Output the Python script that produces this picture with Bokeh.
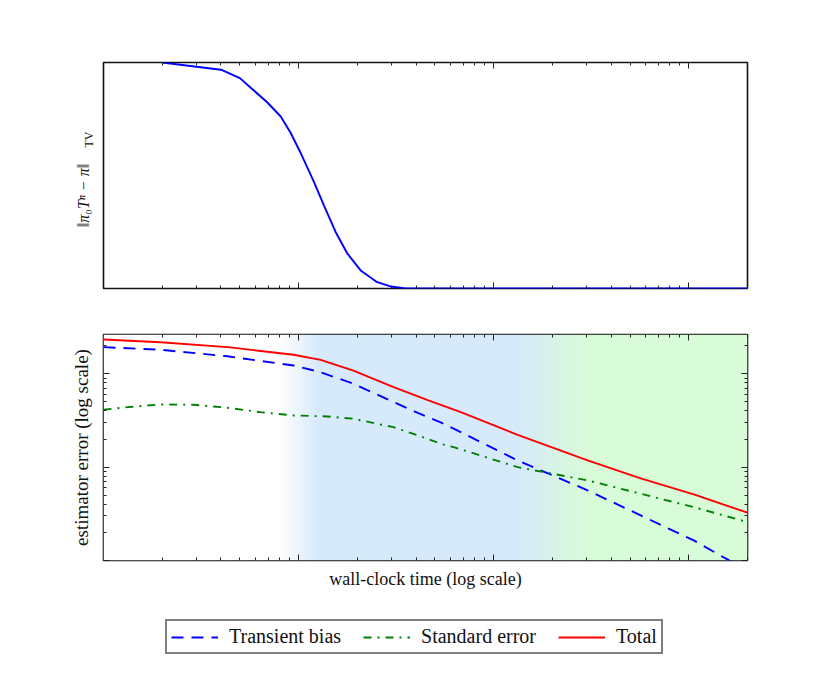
import numpy as np
from bokeh.plotting import figure
from bokeh.layouts import column
from bokeh.models import LogAxis, LinearAxis, FixedTicker, Legend, LegendItem, Range1d
from bokeh.embed import file_html
from bokeh.resources import INLINE

# ---------------- data ----------------
tv_time = [2.0, 4.0, 5.0, 6.9, 8.1, 9.1, 10.2, 12.0, 13.5, 15.5, 17.8, 20.8,
           25.3, 29.6, 34.7, 42.2, 100.0, 2000.0]
tv_dist = [1.0, 0.968, 0.931, 0.824, 0.761, 0.689, 0.603, 0.471, 0.367, 0.249,
           0.154, 0.080, 0.028, 0.009, 0.001, 0.0, 0.0, 0.0]

bias_time = [1.0, 1.96, 4.32, 9.43, 12.97, 19.1, 30.7, 45.9, 53.5, 67.8,
             132.7, 303.0, 567.0, 1061.0, 1585.0, 2000.0]
bias_val = [0.193, 0.181, 0.154, 0.1227, 0.104, 0.0782, 0.0497, 0.0343, 0.0301,
            0.0237, 0.0118, 0.00564, 0.00304, 0.00164, 0.00102, 0.00077]

se_time = [1.0, 1.33, 1.96, 2.89, 4.32, 6.38, 9.43, 14.1, 19.1, 30.7, 45.9,
           53.5, 62.3, 132.7, 303.0, 567.0, 1061.0, 2000.0]
se_val = [0.0412, 0.0439, 0.0469, 0.0466, 0.0433, 0.0388, 0.0358, 0.0349, 0.0330,
          0.0268, 0.0201, 0.0178, 0.0164, 0.0100, 0.00721, 0.00519, 0.00373, 0.00258]

total_time = [1.0, 1.96, 4.32, 9.43, 12.97, 19.1, 30.7, 45.9, 67.8,
              132.7, 303.0, 567.0, 1061.0, 2000.0]
total_val = [0.233, 0.218, 0.193, 0.160, 0.141, 0.108, 0.0719, 0.0521,
             0.0388, 0.0222, 0.0118, 0.00757, 0.00510, 0.00325]

shade_time = [1.0, 8.0, 12.8, 133.0, 300.0, 2000.0]
shade_rgb = [(255, 255, 255), (255, 255, 255), (214, 234, 251),
             (214, 234, 251), (216, 251, 216), (216, 251, 216)]

x_major = [10, 100, 1000]
x_minor = [2, 3, 4, 5, 6, 7, 8, 9, 20, 30, 40, 50, 60, 70, 80, 90,
           200, 300, 400, 500, 600, 700, 800, 900, 2000]
y_major = [0.001, 0.01, 0.1]
y_minor = [0.002, 0.003, 0.004, 0.005, 0.006, 0.007, 0.008, 0.009,
           0.02, 0.03, 0.04, 0.05, 0.06, 0.07, 0.08, 0.09, 0.2]

labels = ["Transient bias", "Standard error", "Total"]
y_label_top_main = "‖π₀Tⁿ − π‖"
y_label_top_sub = "TV"
y_label_bottom = "estimator error (log scale)"
x_label = "wall-clock time (log scale)"

X0, X1 = 1.0, 2000.0
Y0, Y1 = 0.001, 0.2636
FONT = "'Liberation Serif', 'DejaVu Serif', serif"
FRAME_W, FRAME_H = 644, 226
INK = "#111111"
EMSP, ENSP = "\u2003", "\u2002"


def style_axis(ax, ticks=True):
    ax.major_label_text_color = None
    ax.major_label_text_font_size = "1px"
    ax.major_label_standoff = 0
    ax.axis_line_color = None
    if ticks:
        ax.major_tick_in = 6
        ax.major_tick_out = 0
        ax.minor_tick_in = 3
        ax.minor_tick_out = 0
        ax.major_tick_line_color = "#222222"
        ax.minor_tick_line_color = "#222222"
    else:
        ax.major_tick_line_color = None
        ax.minor_tick_line_color = None
        ax.major_tick_in = 0
        ax.major_tick_out = 0
        ax.minor_tick_in = 0
        ax.minor_tick_out = 0
    ax.axis_label_text_font = FONT
    ax.axis_label_text_color = INK
    ax.axis_label_text_font_style = "normal"


def base_fig(y_type, y_range, top, bottom):
    p = figure(x_axis_type="log", y_axis_type=y_type,
               x_range=Range1d(X0, X1), y_range=y_range,
               frame_width=FRAME_W, frame_height=FRAME_H,
               min_border_left=103, min_border_right=75,
               min_border_top=top, min_border_bottom=bottom,
               toolbar_location=None, output_backend="svg")
    p.xgrid.visible = False
    p.ygrid.visible = False
    p.outline_line_color = INK
    p.outline_line_width = 1.6
    p.background_fill_color = "white"
    p.border_fill_color = "white"
    return p


xt = FixedTicker(ticks=x_major, minor_ticks=x_minor)
yt = FixedTicker(ticks=y_major, minor_ticks=y_minor)

# ---------------- top panel ----------------
p1 = base_fig("linear", Range1d(0, 1), 62, 23)
p1.xaxis.ticker = xt
style_axis(p1.xaxis[0])
ax_top = LogAxis(ticker=xt)
style_axis(ax_top)
p1.add_layout(ax_top, "above")

# inner left axis carries the subscript, outer one the main symbol;
# em spaces shift each part along the axis to its place
ax_sub = p1.yaxis[0]
style_axis(ax_sub, ticks=False)
ax_sub.axis_label = EMSP * 6 + y_label_top_sub
ax_sub.axis_label_text_font_size = "12px"
ax_sub.axis_label_standoff = 8
ax_main = LinearAxis()
style_axis(ax_main, ticks=False)
ax_main.axis_label = y_label_top_main + EMSP * 2 + ENSP
ax_main.axis_label_text_font_size = "16px"
ax_main.axis_label_text_font_style = "italic"
ax_main.axis_label_standoff = -13
p1.add_layout(ax_main, "left")

p1.line(tv_time, tv_dist, color="#0000ff", line_width=1.9)

# ---------------- bottom panel ----------------
p2 = base_fig("log", Range1d(Y0, Y1), 23, 45)
p2.xaxis.ticker = xt
p2.yaxis.ticker = yt
style_axis(p2.xaxis[0])
style_axis(p2.yaxis[0])
p2.xaxis[0].axis_label = x_label
p2.xaxis[0].axis_label_text_font_size = "18px"
p2.xaxis[0].axis_label_standoff = 8
p2.yaxis[0].axis_label = y_label_bottom
p2.yaxis[0].axis_label_text_font_size = "19px"
p2.yaxis[0].axis_label_standoff = 12
ax2_top = LogAxis(ticker=xt)
style_axis(ax2_top)
p2.add_layout(ax2_top, "above")
ax2_right = LogAxis(ticker=yt)
style_axis(ax2_right)
p2.add_layout(ax2_right, "right")

N = FRAME_W
lt = np.log10(X0) + (np.arange(N) + 0.5) / N * (np.log10(X1) - np.log10(X0))
ls = np.log10(shade_time)
rgb = np.array(shade_rgb, dtype=float)
img = np.empty((2, N), dtype=np.uint32)
view = img.view(dtype=np.uint8).reshape((2, N, 4))
for c in range(3):
    view[:, :, c] = np.interp(lt, ls, rgb[:, c]).round().astype(np.uint8)
view[:, :, 3] = 255
p2.image_rgba(image=[img], x=X0, y=Y0, dw=X1 - X0, dh=Y1 - Y0)

STYLES = [dict(color="#0000ff", line_width=1.9, line_dash="12 8"),
          dict(color="#008000", line_width=1.9, line_dash="8 6 2 6"),
          dict(color="#ff0000", line_width=1.9)]
SERIES = [(bias_time, bias_val), (se_time, se_val), (total_time, total_val)]

for (xs, ys), st in zip(SERIES, STYLES):
    p2.line(xs, ys, **st)

# ---------------- legend strip ----------------
# the same series are bound to this strip's (out-of-view) ranges, so only
# their legend keys show
p3 = figure(x_range=Range1d(-2, -1), y_range=Range1d(-2, -1),
            frame_width=FRAME_W, frame_height=60,
            min_border_left=103, min_border_right=75,
            min_border_top=0, min_border_bottom=0,
            x_axis_location=None, y_axis_location=None,
            toolbar_location=None, output_backend="svg")
p3.xgrid.visible = False
p3.ygrid.visible = False
p3.outline_line_color = None
p3.border_fill_color = "white"
key_renderers = [p3.line(xs, ys, **st) for (xs, ys), st in zip(SERIES, STYLES)]

legend = Legend(items=[LegendItem(label=lab, renderers=[rr])
                       for lab, rr in zip(labels, key_renderers)],
                orientation="horizontal", location=(62, 11),
                label_text_font=FONT, label_text_font_size="20px",
                label_text_color=INK,
                glyph_width=47, glyph_height=20, label_standoff=11, spacing=22,
                padding=4, margin=0, border_line_color="black",
                border_line_width=2, background_fill_color="white",
                background_fill_alpha=1.0)
p3.add_layout(legend)

layout = column(p1, p2, p3, spacing=0)
open("out.html", "w").write(file_html(layout, INLINE))
